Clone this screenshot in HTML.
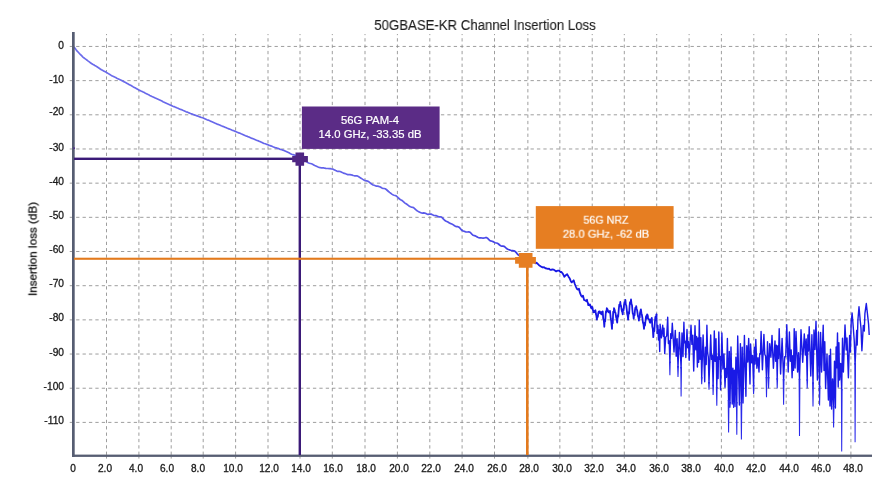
<!DOCTYPE html>
<html><head><meta charset="utf-8"><title>50GBASE-KR Channel Insertion Loss</title>
<style>
html,body{margin:0;padding:0;background:#fff;}
body{width:890px;height:484px;position:relative;overflow:hidden;font-family:"Liberation Sans",sans-serif;}
.t{position:absolute;white-space:nowrap;line-height:1;font-family:"Liberation Sans",sans-serif;will-change:transform;-webkit-text-stroke:0.3px currentColor;}
.t span{display:inline-block;}
</style></head><body>
<svg width="890" height="484" viewBox="0 0 890 484" style="position:absolute;left:0;top:0"><defs><linearGradient id="cg" gradientUnits="userSpaceOnUse" x1="74" y1="0" x2="540" y2="0"><stop offset="0" stop-color="#6c6cea"/><stop offset="0.7" stop-color="#6060ea"/><stop offset="0.9" stop-color="#4646e8"/><stop offset="1" stop-color="#2222e6"/></linearGradient></defs><path d="M106.50 34V455 M138.90 34V455 M171.20 34V455 M203.20 34V455 M235.60 34V455 M268.00 34V455 M300.00 34V455 M332.30 34V455 M365.00 34V455 M397.40 34V455 M429.80 34V455 M462.10 34V455 M494.50 34V455 M527.87 34V455 M559.85 34V455 M592.23 34V455 M624.30 34V455 M656.70 34V455 M689.10 34V455 M721.40 34V455 M753.80 34V455 M786.20 34V455 M818.50 34V455 M850.90 34V455" stroke="#8c8c8c" stroke-width="0.85" stroke-dasharray="3.3 3.06" stroke-dashoffset="2.16" fill="none"/><path d="M106.50 456.5V458.6 M138.90 456.5V458.6 M171.20 456.5V458.6 M203.20 456.5V458.6 M235.60 456.5V458.6 M268.00 456.5V458.6 M300.00 456.5V458.6 M332.30 456.5V458.6 M365.00 456.5V458.6 M397.40 456.5V458.6 M429.80 456.5V458.6 M462.10 456.5V458.6 M494.50 456.5V458.6 M527.87 456.5V458.6 M559.85 456.5V458.6 M592.23 456.5V458.6 M624.30 456.5V458.6 M656.70 456.5V458.6 M689.10 456.5V458.6 M721.40 456.5V458.6 M753.80 456.5V458.6 M786.20 456.5V458.6 M818.50 456.5V458.6 M850.90 456.5V458.6" stroke="#8c8c8c" stroke-width="0.85" fill="none"/><path d="M69.75 46.45H872 M69.75 80.63H872 M69.75 114.80H872 M69.75 148.98H872 M69.75 183.16H872 M69.75 217.33H872 M69.75 251.51H872 M69.75 285.69H872 M69.75 319.87H872 M69.75 354.04H872 M69.75 388.22H872 M69.75 422.40H872" stroke="#8c8c8c" stroke-width="0.85" stroke-dasharray="3.3 3.1" fill="none"/><path d="M73.9 46.9 L75.0 48.2 L76.1 49.7 L77.2 51.1 L78.3 52.3 L79.4 53.5 L80.5 54.6 L81.6 55.7 L82.7 56.8 L83.8 57.8 L84.9 58.6 L86.0 59.4 L87.1 60.2 L88.2 61.1 L89.3 61.9 L90.4 62.7 L91.5 63.5 L92.6 64.2 L93.7 64.8 L94.8 65.5 L95.9 66.1 L97.0 66.8 L98.1 67.5 L99.2 68.2 L100.3 69.0 L101.4 69.7 L102.5 70.3 L103.6 70.9 L104.7 71.5 L105.8 72.1 L106.9 72.7 L108.0 73.4 L109.1 74.1 L110.2 74.7 L111.3 75.4 L112.4 76.0 L113.5 76.5 L114.6 77.1 L115.7 77.6 L116.8 78.2 L117.9 78.7 L119.0 79.2 L120.1 79.7 L121.2 80.2 L122.3 80.8 L123.4 81.4 L124.5 82.0 L125.6 82.6 L126.7 83.2 L127.8 83.8 L128.9 84.4 L130.0 85.0 L131.1 85.6 L132.2 86.2 L133.3 86.9 L134.4 87.5 L135.5 88.1 L136.6 88.7 L137.7 89.3 L138.8 89.9 L139.9 90.4 L141.0 91.0 L142.1 91.5 L143.2 92.1 L144.3 92.6 L145.4 93.2 L146.5 93.7 L147.6 94.3 L148.7 94.8 L149.8 95.4 L150.9 95.9 L152.0 96.5 L153.1 97.0 L154.2 97.5 L155.3 98.1 L156.4 98.6 L157.5 99.1 L158.6 99.6 L159.7 100.1 L160.8 100.6 L161.9 101.1 L163.0 101.7 L164.1 102.2 L165.2 102.7 L166.3 103.2 L167.4 103.7 L168.5 104.2 L169.6 104.7 L170.7 105.2 L171.8 105.7 L172.9 106.2 L174.0 106.6 L175.1 107.1 L176.2 107.5 L177.3 108.0 L178.4 108.4 L179.5 108.9 L180.6 109.4 L181.7 109.8 L182.8 110.3 L183.9 110.7 L185.0 111.2 L186.1 111.7 L187.2 112.1 L188.3 112.6 L189.4 113.0 L190.5 113.5 L191.6 113.9 L192.7 114.3 L193.8 114.7 L194.9 115.1 L196.0 115.5 L197.1 115.9 L198.2 116.3 L199.3 116.7 L200.4 117.1 L201.5 117.5 L202.6 117.8 L203.7 118.2 L204.8 118.7 L205.9 119.2 L207.0 119.7 L208.1 120.1 L209.2 120.6 L210.3 121.1 L211.4 121.5 L212.5 122.0 L213.6 122.5 L214.7 123.0 L215.8 123.4 L216.9 123.9 L218.0 124.4 L219.1 124.8 L220.2 125.3 L221.3 125.8 L222.4 126.2 L223.5 126.6 L224.6 127.1 L225.7 127.5 L226.8 128.0 L227.9 128.4 L229.0 128.9 L230.1 129.3 L231.2 129.7 L232.3 130.2 L233.4 130.6 L234.5 131.1 L235.6 131.5 L236.7 132.0 L237.8 132.4 L238.9 132.9 L240.0 133.3 L241.1 133.8 L242.2 134.2 L243.3 134.7 L244.4 135.2 L245.5 135.7 L246.6 136.1 L247.7 136.6 L248.8 137.0 L249.9 137.4 L251.0 137.9 L252.1 138.4 L253.2 138.8 L254.3 139.2 L255.4 139.7 L256.5 140.2 L257.6 140.6 L258.7 141.1 L259.8 141.5 L260.9 142.0 L262.0 142.5 L263.1 143.1 L264.2 143.5 L265.3 143.8 L266.4 144.2 L267.5 144.6 L268.6 145.1 L269.7 145.5 L270.8 145.9 L271.9 146.3 L273.0 146.8 L274.1 147.2 L275.2 147.6 L276.3 147.9 L277.4 148.2 L278.5 148.6 L279.6 149.1 L280.7 149.5 L281.8 149.8 L282.9 150.1 L284.0 150.5 L285.1 151.0 L286.2 151.5 L287.3 152.0 L288.4 152.5 L289.5 153.1 L290.6 153.8 L291.7 154.3 L292.8 154.6 L293.9 154.9 L295.0 155.2 L296.1 155.7 L297.2 156.3 L298.3 156.9 L299.4 157.3 L300.5 158.0 L301.6 158.7 L302.7 159.5 L303.8 160.1 L304.9 160.7 L306.0 161.4 L307.1 162.1 L308.2 162.8 L309.3 163.2 L310.4 163.5 L311.5 163.8 L312.6 164.3 L313.7 164.9 L314.8 165.5 L315.9 166.0 L317.0 166.5 L318.1 167.0 L319.2 167.4 L320.3 167.7 L321.4 167.8 L322.5 167.9 L323.6 167.9 L324.7 168.2 L325.8 168.4 L326.9 168.5 L328.0 168.5 L329.1 168.6 L330.2 168.7 L331.3 168.9 L332.4 169.0 L333.5 169.4 L334.6 170.0 L335.7 170.6 L336.8 171.1 L337.9 171.3 L339.0 171.3 L340.1 171.5 L341.2 172.0 L342.3 172.6 L343.4 173.1 L344.5 173.4 L345.6 173.8 L346.7 174.2 L347.8 174.6 L348.9 174.7 L350.0 174.7 L351.1 174.8 L352.2 175.1 L353.3 175.5 L354.4 175.8 L355.5 175.8 L356.6 175.8 L357.7 176.1 L358.8 176.8 L359.9 177.6 L361.0 178.2 L362.1 178.9 L363.2 179.6 L364.3 180.3 L365.4 180.7 L366.5 180.9 L367.6 181.1 L368.7 181.7 L369.8 182.6 L370.9 183.5 L372.0 184.3 L373.1 185.0 L374.2 185.3 L375.3 185.7 L376.4 186.1 L377.5 186.2 L378.6 186.4 L379.7 186.7 L380.8 187.3 L381.9 188.0 L383.0 188.4 L384.1 188.5 L385.2 188.8 L386.3 189.5 L387.4 190.5 L388.5 191.5 L389.6 192.4 L390.7 193.2 L391.8 194.1 L392.9 194.8 L394.0 195.2 L395.1 195.5 L396.2 195.9 L397.3 196.8 L398.4 198.0 L399.5 199.0 L400.6 199.7 L401.7 200.3 L402.8 201.1 L403.9 202.1 L405.0 203.1 L406.1 203.8 L407.2 204.5 L408.3 205.4 L409.4 206.2 L410.5 206.8 L411.6 207.1 L412.7 207.3 L413.8 207.8 L414.9 208.8 L416.0 209.9 L417.1 210.7 L418.2 211.4 L419.3 211.9 L420.4 212.5 L421.5 213.0 L422.6 213.1 L423.7 212.9 L424.8 213.1 L425.9 213.5 L427.0 214.1 L428.1 214.3 L429.2 214.1 L430.3 214.0 L431.4 214.2 L432.5 214.8 L433.6 215.3 L434.7 215.5 L435.8 215.7 L436.9 215.9 L438.0 216.6 L439.1 216.8 L440.2 216.8 L441.3 217.0 L442.4 217.9 L443.5 219.1 L444.6 220.3 L445.7 221.0 L446.8 221.5 L447.9 222.0 L449.0 222.7 L450.1 223.4 L451.2 223.8 L452.3 224.2 L453.4 224.9 L454.5 225.7 L455.6 226.4 L456.7 226.6 L457.8 226.7 L458.9 227.1 L460.0 228.2 L461.1 229.5 L462.2 230.5 L463.3 231.0 L464.4 231.4 L465.5 231.8 L466.6 232.0 L467.7 232.0 L468.8 231.9 L469.9 232.2 L471.0 233.2 L472.1 234.4 L473.2 235.3 L474.3 235.6 L475.4 235.9 L476.5 236.5 L477.6 237.3 L478.7 237.6 L479.8 237.8 L480.9 237.8 L482.0 238.0 L483.1 238.2 L484.2 238.0 L485.3 237.7 L486.4 237.6 L487.5 238.2 L488.6 239.3 L489.7 240.4 L490.8 241.0 L491.9 241.2 L493.0 241.6 L494.1 242.2 L495.2 242.7 L496.3 243.0 L497.4 243.3 L498.5 244.0 L499.6 245.0 L500.7 245.8 L501.8 246.1 L502.9 246.1 L504.0 246.3 L505.1 247.1 L506.2 248.1 L507.3 249.0 L508.4 249.5 L509.5 249.9 L510.6 250.3 L511.7 250.6 L512.8 250.7 L513.9 250.8 L515.0 251.3 L516.1 252.4 L517.2 253.8 L518.3 254.9 L519.4 255.5 L520.5 255.7 L521.6 256.2 L522.7 256.8 L523.8 257.5 L524.9 257.9 L526.0 258.3 L527.1 258.9 L528.2 259.5 L529.3 259.9 L530.4 259.9 L531.5 259.9 L532.6 260.5 L533.7 261.6 L534.8 262.8 L535.9 263.4 L536.5 262.7" stroke="url(#cg)" stroke-width="1.7" fill="none" stroke-linejoin="round"/><path d="M656.4 314.4 L656.6 314.2 L657.2 333.2 L657.9 325.5 L658.5 340.0 L659.1 330.0 L659.7 351.5 L660.1 324.3 L661.4 337.9 L662.7 325.3 L663.4 336.3 L664.0 328.3 L664.7 353.5 L665.7 337.1 L666.7 336.0 L667.7 317.2 L668.4 343.6 L669.2 340.8 L669.9 362.4 L670.7 333.7 L671.5 338.4 L672.3 323.3 L674.0 352.0 L675.3 330.4 L676.2 356.3 L677.1 338.7 L678.0 367.0 L679.4 332.4 L681.1 368.0 L682.0 332.9 L683.0 356.6 L683.9 322.3 L684.5 342.7 L685.2 341.2 L685.8 357.5 L687.0 329.5 L687.7 347.8 L688.5 341.5 L689.2 360.2 L691.0 325.3 L691.9 344.4 L692.8 335.3 L693.7 371.0 L695.0 325.8 L695.8 349.7 L696.6 336.5 L697.4 367.0 L698.0 338.0 L698.7 362.2 L699.3 320.2 L700.1 359.2 L700.9 337.6 L701.7 378.1 L703.1 334.9 L704.7 381.8 L705.4 347.2 L706.2 364.5 L706.9 325.3 L707.6 352.4 L708.3 356.8 L709.0 383.0 L710.7 334.9 L711.5 359.4 L712.3 355.2 L713.1 385.7 L714.3 330.9 L715.1 361.4 L716.0 338.8 L716.8 387.9 L717.5 357.0 L718.1 378.5 L718.8 331.9 L719.4 359.2 L720.0 356.4 L720.6 389.9 L721.9 332.9 L722.9 369.0 L724.0 354.0 L725.0 387.2 L725.8 368.4 L726.6 377.3 L727.4 338.5 L728.6 400.9 L729.3 351.5 L730.0 403.0 L731.0 347.0 L732.2 404.0 L732.9 368.2 L733.6 403.0 L734.3 370.3 L735.0 406.5 L735.9 357.3 L736.8 403.0 L737.7 335.9 L739.4 405.0 L740.4 343.6 L741.4 403.0 L742.2 347.2 L743.0 403.0 L744.4 335.4 L745.9 396.3 L746.8 345.6 L747.8 362.0 L748.7 338.4 L750.0 384.0 L750.6 344.0 L751.6 362.8 L752.6 355.4 L753.6 386.0 L754.3 347.1 L755.1 364.0 L755.8 339.4 L756.9 368.3 L758.0 357.7 L759.0 372.0 L759.7 353.8 L760.4 354.1 L761.1 331.5 L762.4 369.7 L763.9 334.4 L764.8 354.3 L765.6 356.1 L766.5 377.9 L767.5 341.8 L768.6 378.1 L769.7 343.6 L770.9 357.3 L772.0 335.4 L773.4 368.3 L775.0 340.9 L775.7 361.2 L776.5 345.1 L777.2 379.3 L777.9 345.9 L778.5 358.5 L779.2 328.8 L780.6 374.0 L782.1 338.4 L783.6 380.1 L784.7 356.8 L785.7 356.8 L786.8 324.7 L788.2 372.0 L789.4 332.0 L790.3 361.3 L791.2 349.9 L792.1 377.8 L792.8 355.6 L793.5 370.4 L794.2 328.8 L795.1 368.0 L796.0 331.5 L797.6 372.0 L798.5 352.6 L799.5 379.7 L801.0 329.8 L802.7 362.2 L804.3 333.9 L805.3 355.0 L806.2 339.0 L807.2 380.2 L807.9 335.0 L808.5 351.0 L809.2 326.8 L810.8 376.0 L811.9 334.8 L813.0 383.3 L814.0 330.0 L815.0 349.5 L816.0 321.3 L817.4 380.0 L818.5 332.2 L819.6 386.8 L820.6 332.4 L821.6 372.0 L823.2 325.3 L824.0 370.5 L824.8 341.7 L825.6 388.5 L827.0 354.2 L828.4 400.0 L829.2 355.6 L830.0 406.0 L830.5 349.3 L831.6 409.0 L832.6 378.9 L833.6 407.0 L834.5 361.1 L835.4 408.0 L836.1 346.9 L836.8 367.8 L837.5 333.0 L838.2 387.0 L838.9 342.7 L839.6 380.0 L840.7 363.5 L841.7 389.9 L842.5 338.2 L843.4 372.0 L845.0 324.9 L846.2 350.0 L847.0 338.0 L848.4 377.8 L849.6 335.5 L850.4 352.0 L851.2 322.0 L852.1 313.0 L853.1 325.4 L854.2 340.0 L855.1 364.1 L856.0 345.0 L856.7 330.4 L857.2 345.0 L857.9 320.3 L859.0 306.7 L860.2 320.3 L861.0 328.4 L861.9 350.8 L863.3 325.4 L864.3 331.0 L864.9 313.7 L866.3 303.5 L867.6 315.2 L868.6 324.4 L869.2 335.0" stroke="#1a1ae6" stroke-width="1.4" fill="none" stroke-linejoin="round"/><path d="M669.5 361.4 L669.9 375.3 L670.2 361.4 M677.6 366.0 L678.0 377.1 L678.4 366.0 M680.8 367.0 L681.1 396.4 L681.5 367.0 M701.4 377.1 L701.7 384.2 L702.1 377.1 M708.6 382.0 L709.0 389.6 L709.4 382.0 M712.8 384.7 L713.1 395.0 L713.5 384.7 M716.4 386.9 L716.8 405.8 L717.1 386.9 M728.2 399.9 L728.6 432.5 L729.0 399.9 M729.6 402.0 L730.0 407.8 L730.4 402.0 M733.2 402.0 L733.6 408.0 L734.0 402.0 M736.4 402.0 L736.8 434.8 L737.1 402.0 M741.0 402.0 L741.4 439.5 L741.8 402.0 M753.2 385.0 L753.6 394.0 L754.0 385.0 M766.1 376.9 L766.5 397.3 L766.9 376.9 M768.2 377.1 L768.6 388.5 L769.0 377.1 M776.9 378.3 L777.2 388.5 L777.6 378.3 M783.2 379.1 L783.6 404.7 L784.0 379.1 M799.1 378.7 L799.5 436.1 L799.9 378.7 M806.9 379.2 L807.2 388.5 L807.6 379.2 M812.6 382.3 L813.0 406.5 L813.4 382.3 M819.2 385.8 L819.6 405.5 L820.0 385.8 M833.2 406.0 L833.6 427.6 L834.0 406.0 M841.4 388.9 L841.7 451.4 L842.1 388.9 M854.8 363.1 L855.1 442.2 L855.5 363.1" stroke="#2a2aea" stroke-width="1.05" fill="none" stroke-linejoin="miter" stroke-miterlimit="10"/><path d="M536.5 262.7 L539.0 265.2 L541.7 266.9 L542.9 267.5 L544.0 267.2 L545.5 268.3 L546.9 268.5 L548.0 269.0 L549.0 268.6 L550.0 269.6 L551.0 270.0 L552.2 269.4 L553.5 269.6 L554.9 270.5 L556.2 271.4 L557.1 270.8 L558.0 270.6 L559.1 270.6 L560.3 272.0 L561.3 271.8 L562.3 273.0 L563.3 274.6 L564.4 276.8 L565.8 275.1 L567.1 274.1 L568.4 276.4 L569.6 278.2 L570.7 280.9 L571.7 282.4 L572.7 281.3 L573.7 280.3 L574.8 284.0 L575.8 286.5 L576.8 288.7 L577.9 289.6 L579.0 288.8 L579.9 292.7 L581.0 295.4 L582.0 296.8 L583.0 295.6 L584.1 300.0 L585.1 300.3 L586.1 301.0 L587.0 299.8 L587.4 302.0 L587.9 302.9 L588.2 305.1 L588.9 304.4 L589.4 305.2 L590.0 304.5 L590.4 305.6 L590.9 307.3 L591.3 308.2 L591.6 306.8 L592.1 308.3 L592.4 307.2 L592.6 309.0 L593.1 310.7 L593.4 312.4 L594.1 311.0 L594.6 312.1 L595.4 310.3 L595.9 314.0 L596.4 315.8 L596.9 319.6 L597.3 315.5 L597.8 316.9 L598.3 313.0 L598.7 311.7 L599.2 313.0 L599.6 311.3 L600.4 312.3 L600.9 313.7 L601.6 314.4 L601.9 311.9 L602.4 313.4 L602.7 311.3 L603.2 318.5 L603.8 320.0 L604.3 326.8 L604.7 320.1 L605.2 321.3 L605.6 315.0 L606.0 311.2 L606.5 312.0 L606.8 308.2 L607.6 309.4 L608.1 311.2 L608.9 312.4 L609.2 311.3 L609.7 312.6 L610.0 311.0 L610.8 319.0 L611.2 320.7 L612.0 328.9 L612.2 321.9 L612.8 323.1 L613.0 316.0 L613.2 311.7 L613.8 312.4 L614.0 308.2 L614.5 309.6 L615.0 311.4 L615.5 313.0 L616.1 317.2 L616.6 318.8 L617.2 322.7 L617.8 315.2 L618.2 316.8 L618.8 309.0 L619.3 304.6 L619.8 305.9 L620.3 302.0 L620.6 305.0 L621.1 306.0 L621.5 309.0 L621.9 311.2 L622.4 312.4 L622.7 314.4 L623.1 309.2 L623.6 310.3 L624.0 305.0 L624.5 302.1 L625.0 303.4 L625.4 300.0 L625.8 304.5 L626.3 305.6 L626.8 310.0 L627.2 314.1 L627.7 315.7 L628.1 319.6 L628.6 312.2 L629.1 313.7 L629.6 306.0 L630.0 302.1 L630.5 303.4 L631.0 299.5 L631.5 304.1 L632.0 305.1 L632.4 310.0 L632.8 313.7 L633.3 314.7 L633.7 318.6 L634.1 314.0 L634.6 315.2 L635.0 310.0 L635.4 307.6 L635.9 308.7 L636.2 306.1 L636.6 308.7 L637.1 310.2 L637.5 313.0 L638.0 316.3 L638.5 317.5 L638.9 320.6 L639.2 316.1 L639.7 317.6 L640.0 313.0 L640.9 309.3 L641.4 313.2 L641.9 314.8 L642.4 318.0 L643.0 322.8 L643.5 324.2 L644.0 328.9 L644.5 323.0 L645.0 325.5 L645.6 320.0 L646.1 316.1 L646.6 318.6 L647.1 314.4 L647.6 315.0 L648.1 317.7 L648.6 319.0 L649.2 319.6 L649.7 321.9 L650.2 322.7 L650.8 319.3 L651.2 321.7 L651.8 318.0 L652.3 326.6 L652.8 328.7 L653.3 337.2 L653.8 328.6 L654.3 331.3 L654.9 322.0 L655.4 316.9 L655.9 319.8 L656.4 314.4" stroke="#1717e4" stroke-width="1.8" fill="none" stroke-linejoin="round" stroke-linecap="round"/><rect x="72" y="32" width="2.7" height="424.9" fill="#565d72"/><rect x="72" y="454.6" width="800" height="2.3" fill="#565d72"/><rect x="73.4" y="147.4" width="1.5" height="1.7" fill="#4b2a8a"/><rect x="74" y="157.6" width="226" height="2.4" fill="#3b1a78"/><rect x="298.6" y="158" width="2.4" height="297" fill="#3b1a78"/><path d="M295.5 152.4H304.1V156.1H307.9V162.3H304.1V165.8H295.5V162.3H292.2V156.1H295.5Z" fill="#4f2683"/><rect x="301.9" y="106.5" width="137.7" height="42.4" fill="#5b2c86"/><rect x="74" y="257.7" width="452" height="2.1" fill="#e37a1d"/><rect x="526" y="258" width="2.6" height="197" fill="#e37a1d"/><path d="M518.8 252.9H532.5V256.9H535.9V263.8H532.5V267.8H518.8V263.8H515.1V256.9H518.8Z" fill="#e67e22"/><rect x="535.8" y="206.1" width="137.8" height="42.7" fill="#e67e22"/></svg>
<div class="t" style="left:485.3px;top:32.05px;font-size:14px;color:#1c1c1c;font-weight:normal;-webkit-text-stroke-width:0.12px;transform:translate(-50%,-100%) scaleX(0.942);transform-origin:50% 100%">50GBASE-KR Channel Insertion Loss</div><div class="t" style="left:64.1px;top:50.82px;font-size:10.2px;color:#1a1a1a;font-weight:normal;-webkit-text-stroke-width:0.3px;transform:translate(-100%,-100%) scaleX(1.0);transform-origin:100% 100%">0</div><div class="t" style="left:64.1px;top:84.89px;font-size:10.2px;color:#1a1a1a;font-weight:normal;-webkit-text-stroke-width:0.3px;transform:translate(-100%,-100%) scaleX(1.0);transform-origin:100% 100%">-10</div><div class="t" style="left:64.1px;top:117.07px;font-size:10.2px;color:#1a1a1a;font-weight:normal;-webkit-text-stroke-width:0.3px;transform:translate(-100%,-100%) scaleX(1.0);transform-origin:100% 100%">-20</div><div class="t" style="left:64.1px;top:153.05px;font-size:10.2px;color:#1a1a1a;font-weight:normal;-webkit-text-stroke-width:0.3px;transform:translate(-100%,-100%) scaleX(1.0);transform-origin:100% 100%">-30</div><div class="t" style="left:64.1px;top:187.12px;font-size:10.2px;color:#1a1a1a;font-weight:normal;-webkit-text-stroke-width:0.3px;transform:translate(-100%,-100%) scaleX(1.0);transform-origin:100% 100%">-40</div><div class="t" style="left:64.1px;top:220.7px;font-size:10.2px;color:#1a1a1a;font-weight:normal;-webkit-text-stroke-width:0.3px;transform:translate(-100%,-100%) scaleX(1.0);transform-origin:100% 100%">-50</div><div class="t" style="left:64.1px;top:255.28px;font-size:10.2px;color:#1a1a1a;font-weight:normal;-webkit-text-stroke-width:0.3px;transform:translate(-100%,-100%) scaleX(1.0);transform-origin:100% 100%">-60</div><div class="t" style="left:64.1px;top:289.35px;font-size:10.2px;color:#1a1a1a;font-weight:normal;-webkit-text-stroke-width:0.3px;transform:translate(-100%,-100%) scaleX(1.0);transform-origin:100% 100%">-70</div><div class="t" style="left:64.1px;top:323.43px;font-size:10.2px;color:#1a1a1a;font-weight:normal;-webkit-text-stroke-width:0.3px;transform:translate(-100%,-100%) scaleX(1.0);transform-origin:100% 100%">-80</div><div class="t" style="left:64.1px;top:357.51px;font-size:10.2px;color:#1a1a1a;font-weight:normal;-webkit-text-stroke-width:0.3px;transform:translate(-100%,-100%) scaleX(1.0);transform-origin:100% 100%">-90</div><div class="t" style="left:64.1px;top:391.59px;font-size:10.2px;color:#1a1a1a;font-weight:normal;-webkit-text-stroke-width:0.3px;transform:translate(-100%,-100%) scaleX(1.0);transform-origin:100% 100%">-100</div><div class="t" style="left:64.1px;top:425.66px;font-size:10.2px;color:#1a1a1a;font-weight:normal;-webkit-text-stroke-width:0.3px;transform:translate(-100%,-100%) scaleX(1.0);transform-origin:100% 100%">-110</div><div class="t" style="left:73.2px;top:474.15px;font-size:10.1px;color:#1a1a1a;font-weight:normal;-webkit-text-stroke-width:0.3px;transform:translate(-50%,-100%) scaleX(1.0);transform-origin:50% 100%">0</div><div class="t" style="left:104.5px;top:474.15px;font-size:10.1px;color:#1a1a1a;font-weight:normal;-webkit-text-stroke-width:0.3px;transform:translate(-50%,-100%) scaleX(1.0);transform-origin:50% 100%">2.0</div><div class="t" style="left:135.7px;top:474.15px;font-size:10.1px;color:#1a1a1a;font-weight:normal;-webkit-text-stroke-width:0.3px;transform:translate(-50%,-100%) scaleX(1.0);transform-origin:50% 100%">4.0</div><div class="t" style="left:166.9px;top:474.15px;font-size:10.1px;color:#1a1a1a;font-weight:normal;-webkit-text-stroke-width:0.3px;transform:translate(-50%,-100%) scaleX(1.0);transform-origin:50% 100%">6.0</div><div class="t" style="left:198.2px;top:474.15px;font-size:10.1px;color:#1a1a1a;font-weight:normal;-webkit-text-stroke-width:0.3px;transform:translate(-50%,-100%) scaleX(1.0);transform-origin:50% 100%">8.0</div><div class="t" style="left:232.9px;top:474.15px;font-size:10.1px;color:#1a1a1a;font-weight:normal;-webkit-text-stroke-width:0.3px;transform:translate(-50%,-100%) scaleX(1.0);transform-origin:50% 100%">10.0</div><div class="t" style="left:269.0px;top:474.15px;font-size:10.1px;color:#1a1a1a;font-weight:normal;-webkit-text-stroke-width:0.3px;transform:translate(-50%,-100%) scaleX(1.0);transform-origin:50% 100%">12.0</div><div class="t" style="left:300.6px;top:474.15px;font-size:10.1px;color:#1a1a1a;font-weight:normal;-webkit-text-stroke-width:0.3px;transform:translate(-50%,-100%) scaleX(1.0);transform-origin:50% 100%">14.0</div><div class="t" style="left:333.0px;top:474.15px;font-size:10.1px;color:#1a1a1a;font-weight:normal;-webkit-text-stroke-width:0.3px;transform:translate(-50%,-100%) scaleX(1.0);transform-origin:50% 100%">16.0</div><div class="t" style="left:366.0px;top:474.15px;font-size:10.1px;color:#1a1a1a;font-weight:normal;-webkit-text-stroke-width:0.3px;transform:translate(-50%,-100%) scaleX(1.0);transform-origin:50% 100%">18.0</div><div class="t" style="left:398.8px;top:474.15px;font-size:10.1px;color:#1a1a1a;font-weight:normal;-webkit-text-stroke-width:0.3px;transform:translate(-50%,-100%) scaleX(1.0);transform-origin:50% 100%">20.0</div><div class="t" style="left:431.4px;top:474.15px;font-size:10.1px;color:#1a1a1a;font-weight:normal;-webkit-text-stroke-width:0.3px;transform:translate(-50%,-100%) scaleX(1.0);transform-origin:50% 100%">22.0</div><div class="t" style="left:463.8px;top:474.15px;font-size:10.1px;color:#1a1a1a;font-weight:normal;-webkit-text-stroke-width:0.3px;transform:translate(-50%,-100%) scaleX(1.0);transform-origin:50% 100%">24.0</div><div class="t" style="left:496.5px;top:474.15px;font-size:10.1px;color:#1a1a1a;font-weight:normal;-webkit-text-stroke-width:0.3px;transform:translate(-50%,-100%) scaleX(1.0);transform-origin:50% 100%">26.0</div><div class="t" style="left:528.9px;top:474.15px;font-size:10.1px;color:#1a1a1a;font-weight:normal;-webkit-text-stroke-width:0.3px;transform:translate(-50%,-100%) scaleX(1.0);transform-origin:50% 100%">28.0</div><div class="t" style="left:561.5px;top:474.15px;font-size:10.1px;color:#1a1a1a;font-weight:normal;-webkit-text-stroke-width:0.3px;transform:translate(-50%,-100%) scaleX(1.0);transform-origin:50% 100%">30.0</div><div class="t" style="left:593.9px;top:474.15px;font-size:10.1px;color:#1a1a1a;font-weight:normal;-webkit-text-stroke-width:0.3px;transform:translate(-50%,-100%) scaleX(1.0);transform-origin:50% 100%">32.0</div><div class="t" style="left:626.4px;top:474.15px;font-size:10.1px;color:#1a1a1a;font-weight:normal;-webkit-text-stroke-width:0.3px;transform:translate(-50%,-100%) scaleX(1.0);transform-origin:50% 100%">34.0</div><div class="t" style="left:659.1px;top:474.15px;font-size:10.1px;color:#1a1a1a;font-weight:normal;-webkit-text-stroke-width:0.3px;transform:translate(-50%,-100%) scaleX(1.0);transform-origin:50% 100%">36.0</div><div class="t" style="left:691.4px;top:474.15px;font-size:10.1px;color:#1a1a1a;font-weight:normal;-webkit-text-stroke-width:0.3px;transform:translate(-50%,-100%) scaleX(1.0);transform-origin:50% 100%">38.0</div><div class="t" style="left:723.8px;top:474.15px;font-size:10.1px;color:#1a1a1a;font-weight:normal;-webkit-text-stroke-width:0.3px;transform:translate(-50%,-100%) scaleX(1.0);transform-origin:50% 100%">40.0</div><div class="t" style="left:756.2px;top:474.15px;font-size:10.1px;color:#1a1a1a;font-weight:normal;-webkit-text-stroke-width:0.3px;transform:translate(-50%,-100%) scaleX(1.0);transform-origin:50% 100%">42.0</div><div class="t" style="left:788.5px;top:474.15px;font-size:10.1px;color:#1a1a1a;font-weight:normal;-webkit-text-stroke-width:0.3px;transform:translate(-50%,-100%) scaleX(1.0);transform-origin:50% 100%">44.0</div><div class="t" style="left:820.9px;top:474.15px;font-size:10.1px;color:#1a1a1a;font-weight:normal;-webkit-text-stroke-width:0.3px;transform:translate(-50%,-100%) scaleX(1.0);transform-origin:50% 100%">46.0</div><div class="t" style="left:852.9px;top:474.15px;font-size:10.1px;color:#1a1a1a;font-weight:normal;-webkit-text-stroke-width:0.3px;transform:translate(-50%,-100%) scaleX(1.0);transform-origin:50% 100%">48.0</div><div class="t" style="left:369.8px;top:126.03px;font-size:11.3px;color:#fff;font-weight:normal;-webkit-text-stroke-width:0.2px;transform:translate(-50%,-100%) scaleX(1.0);transform-origin:50% 100%">56G PAM-4</div><div class="t" style="left:369.7px;top:139.63px;font-size:11.3px;color:#fff;font-weight:normal;-webkit-text-stroke-width:0.2px;transform:translate(-50%,-100%) scaleX(1.0);transform-origin:50% 100%">14.0 GHz, -33.35 dB</div><div class="t" style="left:606.0px;top:226.03px;font-size:11.3px;color:#fff;font-weight:normal;-webkit-text-stroke-width:0.2px;transform:translate(-50%,-100%) scaleX(0.945);transform-origin:50% 100%">56G NRZ</div><div class="t" style="left:606.1px;top:239.83px;font-size:11.3px;color:#fff;font-weight:normal;-webkit-text-stroke-width:0.2px;transform:translate(-50%,-100%) scaleX(0.99);transform-origin:50% 100%">28.0 GHz, -62 dB</div><div class="t" style="left:36.0px;top:249px;font-size:11.7px;color:#111;transform:translate(-50%,-50%) rotate(-90deg) translateY(-3.6px)">Insertion loss (dB)</div>
</body></html>
